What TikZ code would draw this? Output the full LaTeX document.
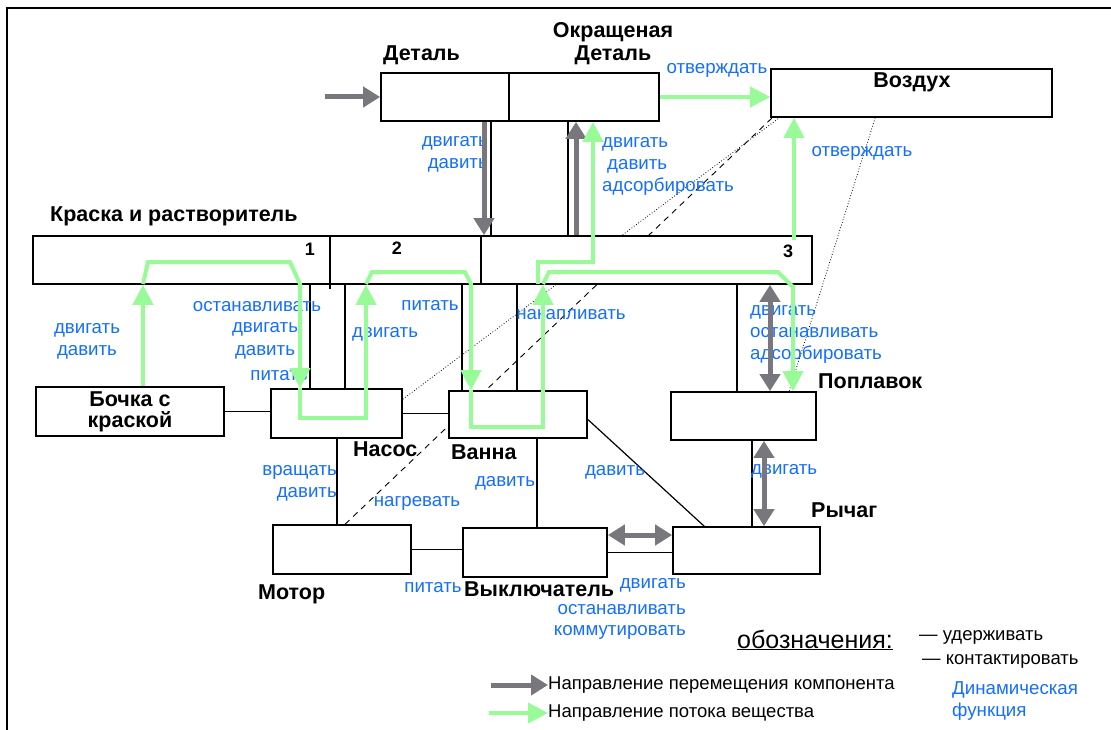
\documentclass[tikz,border=0pt]{standalone}
\usepackage{fontspec}
\setmainfont{Liberation Sans}
\usetikzlibrary{arrows.meta}
\definecolor{flowgreen}{RGB}{152,251,152}
\definecolor{movegray}{RGB}{120,119,126}
\definecolor{funcblue}{RGB}{20,110,255}
\begin{document}
\begin{tikzpicture}[x=1pt,y=-1pt,
  box/.style={draw=black, line width=1.7pt, fill=white, rectangle, inner sep=0pt},
  link/.style={draw=black, line width=1.2pt},
  title/.style={font=\fontsize{21.5}{23}\selectfont\bfseries, inner sep=0pt},
  num/.style={font=\fontsize{18}{20}\selectfont\bfseries, inner sep=0pt},
  func/.style={text=funcblue, font=\fontsize{18.7}{22}\selectfont, inner sep=0pt},
  legend/.style={font=\fontsize{18.5}{22}\selectfont, inner sep=0pt},
  move/.style={draw=movegray, line width=5pt, -{Triangle[width=20pt,length=17pt]}},
  movetwo/.style={draw=movegray, line width=5pt, {Triangle[width=20pt,length=17pt]}-{Triangle[width=20pt,length=17pt]}},
  flow/.style={draw=flowgreen, line width=4pt},
  flowto/.style={flow, -{Triangle[width=20pt,length=20pt]}},
]
\useasboundingbox (0,0) rectangle (1111,730);

% frame
\draw[line width=1.2pt] (7,730) -- (7,8) -- (1111,8);

% box geometry
\path
  (445,97)    node[box, minimum width=128pt, minimum height=48pt] (deta) {}
  (584,97)    node[box, minimum width=150pt, minimum height=48pt] (okr) {}
  (911.5,93)  node[box, minimum width=281pt, minimum height=48pt] (air) {}
  (422.5,260) node[box, minimum width=779pt, minimum height=48pt] (bar) {}
  (130,411.5) node[box, minimum width=188pt, minimum height=49pt] (bochka) {}
  (336.5,413.5) node[box, minimum width=131pt, minimum height=49pt] (nasos) {}
  (518,414.5) node[box, minimum width=138pt, minimum height=47pt] (vanna) {}
  (743.5,416) node[box, minimum width=145pt, minimum height=48pt] (float) {}
  (746.5,550.5) node[box, minimum width=147pt, minimum height=47pt] (lever) {}
  (342,549.5) node[box, minimum width=138pt, minimum height=49pt] (motor) {}
  (535,552.5) node[box, minimum width=144pt, minimum height=49pt] (switch) {};

% dotted and dashed relations (hidden behind the boxes)
\draw[line width=0.8pt, dotted] ([yshift=-11pt]nasos.north east) -- ([xshift=9pt]air.south west);
\draw[line width=0.9pt, dash pattern=on 6pt off 5pt] ([xshift=73pt]motor.north west) -- ([xshift=2pt]air.south west);
\draw[line width=0.8pt, dotted] ([xshift=105pt]air.south west) -- ([xshift=119pt]float.north west);

% thin links
\draw[link] (491,0 |- deta.south) -- (491,0 |- bar.north);
\draw[link] (568,0 |- okr.south) -- (568,0 |- bar.north);
\draw[link] (bochka.east) -- (bochka.east -| nasos.west);
\draw[link] (nasos.east) -- (nasos.east -| vanna.west);
\draw[link] (310,0 |- bar.south) -- (310,0 |- nasos.north);
\draw[link] (345,0 |- bar.south) -- (345,0 |- nasos.north);
\draw[link] (462,0 |- bar.south) -- (462,0 |- vanna.north);
\draw[link] (517,0 |- bar.south) -- (517,0 |- vanna.north);
\draw[link] (737,0 |- bar.south) -- (737,0 |- float.north);
\draw[link] (337,0 |- nasos.south) -- (337,0 |- motor.north);
\draw[link] (537,0 |- vanna.south) -- (537,0 |- switch.north);
\draw[link] ([yshift=-5pt]vanna.east) -- ([xshift=32pt]lever.north west);
\draw[link] (752,0 |- float.south) -- (752,0 |- lever.north);
\draw[link] (motor.east) -- (motor.east -| switch.west);
\draw[link] (switch.east) -- (switch.east -| lever.west);

% boxes on top of the relation lines
\path
  (445,97)    node[box, minimum width=128pt, minimum height=48pt] {}
  (584,97)    node[box, minimum width=150pt, minimum height=48pt] {}
  (911.5,93)  node[box, minimum width=281pt, minimum height=48pt] {}
  (422.5,260) node[box, minimum width=779pt, minimum height=48pt] {}
  (130,411.5) node[box, minimum width=188pt, minimum height=49pt] {}
  (336.5,413.5) node[box, minimum width=131pt, minimum height=49pt] {}
  (518,414.5) node[box, minimum width=138pt, minimum height=47pt] {}
  (743.5,416) node[box, minimum width=145pt, minimum height=48pt] {}
  (746.5,550.5) node[box, minimum width=147pt, minimum height=47pt] {}
  (342,549.5) node[box, minimum width=138pt, minimum height=49pt] {}
  (535,552.5) node[box, minimum width=144pt, minimum height=49pt] {};

% bar sections
\draw[link] (330,0 |- bar.north) -- (330,289);
\draw[link] (481,0 |- bar.north) -- (481,0 |- bar.south);
\node[num] (n1) at (310,249) {1};
\node[num] (n2) at (397,248) {2};
\node[num] (n3) at (788,251) {3};

% component names
\node[title, anchor=west] (tdeta) at (383,55) {Деталь};
\node[title, align=center] (tokr) at (613,44) {Окращеная\\Деталь};
\node[title] (tair) at (912,82) {Воздух};
\node[title, anchor=west] (tbar) at (50,216) {Краска и растворитель};
\node[title, align=center, font=\fontsize{21.5}{21}\selectfont\bfseries] (tbochka) at (130,412) {Бочка с\\краской};
\node[title, anchor=west] (tnasos) at (353,449) {Насос};
\node[title, anchor=west] (tvanna) at (451,452) {Ванна};
\node[title, anchor=west] (tfloat) at (818,381) {Поплавок};
\node[title, anchor=west] (tlever) at (811,510) {Рычаг};
\node[title, anchor=west] (tmotor) at (258,594) {Мотор};
\node[title, anchor=west] (tswitch) at (464,589) {Выключатель};

% functions
\node[func, align=right, anchor=east] (f1) at (488,154) {двигать\\давить};
\node[func, align=left, anchor=west] (f2) at (602,166) {двигать\\\hspace{5pt}давить\\адсорбировать};
\node[func] (f3) at (717,70) {отверждать};
\node[func] (f4) at (862,153) {отверждать};
\node[func, align=center] (f5) at (87,341) {двигать\\давить};
\node[func] (f6a) at (257,307) {останавливать};
\node[func] (f6b) at (265,329) {двигать};
\node[func] (f6c) at (265,352) {давить};
\node[func] (f6d) at (279,376) {питать};
\node[func] (f7) at (385,334) {двигать};
\node[func] (f8) at (430,306) {питать};
\node[func] (f9) at (571,315) {накапливать};
\node[func, align=left, anchor=west] (f10) at (750,334) {двигать\\останавливать\\адсорбировать};
\node[func, anchor=west] (f11) at (751,471) {двигать};
\node[func, align=right, anchor=east] (f12) at (337,483) {вращать\\давить};
\node[func] (f13) at (417,503) {нагревать};
\node[func] (f14) at (505,483) {давить};
\node[func] (f15) at (615,472) {давить};
\node[func] (f16) at (433,588) {питать};
\node[func, anchor=east] (f17a) at (686,585) {двигать};
\node[func, anchor=east] (f17b) at (686,610) {останавливать};
\node[func, anchor=east] (f17c) at (686,632) {коммутировать};

% component movement
\coordinate (src) at (325,97);
\draw[move] (src) -- (deta.west);
\draw[move] (484,0 |- deta.south) -- (484,0 |- bar.north);
\draw[move] (576,0 |- bar.north) -- (576,0 |- okr.south);
\draw[movetwo] (770,0 |- bar.south) -- (770,0 |- float.north);
\draw[movetwo] (764,0 |- float.south) -- (764,0 |- lever.north);
\draw[movetwo] (switch.east |- 0,535) -- (lever.west |- 0,535);

% substance flow
\draw[flowto] (okr.east) -- (okr.east -| air.west);
\draw[flowto] (794,240) -- (794,0 |- air.south);
\draw[flowto] (143,0 |- bochka.north) -- (143,0 |- bar.south);
\draw[flowto] (143,284) -- (148,262) -- (290,262) -- (300,284) -- (300,0 |- nasos.north);
\draw[flowto] (300,388) -- (300,418) -- (366,418) -- (366,0 |- bar.south);
\draw[flowto] (366,284) -- (372,272) -- (465,272) -- (471,284) -- (471,0 |- vanna.north);
\draw[flowto] (471,390) -- (471,427) -- (543,427) -- (543,0 |- bar.south);
\draw[flowto] (543,284) -- (549,272) -- (778,272) -- (793,287) -- (793,0 |- float.north);
\draw[flowto] (538,284) -- (538,262) -- (593,262) -- (593,0 |- okr.south);

% legend
\node[font=\fontsize{25}{28}\selectfont, inner sep=0pt] (lgtitle) at (815,640) {\underline{обозначения:}};
\node[legend, anchor=west] (lghold) at (919,637) {— удерживать};
\node[legend, anchor=west] (lgtouch) at (922,661) {— контактировать};
\node[legend, anchor=west] (lgmove) at (548,685) {Направление перемещения компонента};
\node[legend, anchor=west] (lgflow) at (548,713) {Направление потока вещества};
\node[func, align=left, anchor=west] (lgfunc) at (952,701) {Динамическая\\функция};
\coordinate (lgm) at (491,685);
\coordinate (lgf) at (489,713);
\draw[move] (lgm) -- (lgmove.west);
\draw[flowto] (lgf) -- (lgflow.west);
\end{tikzpicture}
\end{document}
